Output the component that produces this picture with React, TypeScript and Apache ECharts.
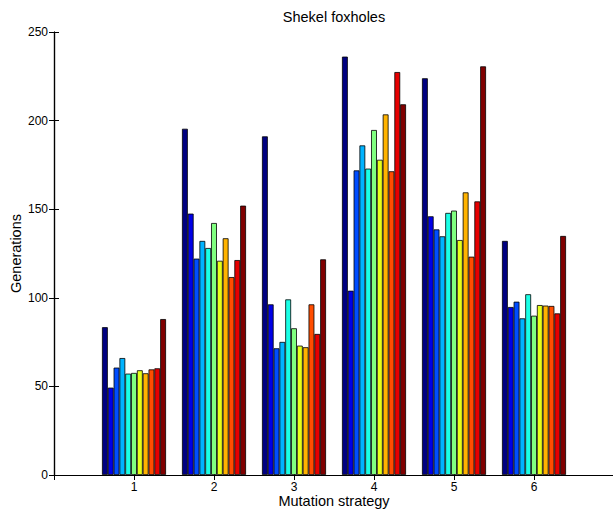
import React, { useEffect, useRef } from "react";
import * as echarts from "echarts";

// Mutation strategies on the x axis
const strategies = [1, 2, 3, 4, 5, 6];

// Generations needed, one row per strategy (11 runs each)
const strategy1 = [83.4, 49.3, 60.6, 66.0, 57.2, 57.6, 59.1, 57.4, 59.6, 60.2, 88.0];
const strategy2 = [195.4, 147.5, 122.1, 132.1, 128.1, 142.2, 120.9, 133.6, 111.7, 121.3, 152.0];
const strategy3 = [191.1, 96.3, 71.5, 75.1, 99.1, 82.8, 73.0, 72.1, 96.3, 79.6, 121.7];
const strategy4 = [236.1, 104.0, 171.9, 186.0, 172.9, 194.7, 177.9, 203.5, 171.4, 227.4, 209.2];
const strategy5 = [223.9, 146.0, 138.6, 134.7, 147.9, 149.2, 132.6, 159.5, 123.2, 154.4, 230.6];
const strategy6 = [132.1, 94.8, 97.8, 88.4, 102.0, 89.9, 95.9, 95.6, 95.4, 91.2, 134.9];

const yTicks = [0, 50, 100, 150, 200, 250];

// jet colour map sampled at 11 evenly spaced points
const runColors = [
  "#000080", "#0000E6", "#004DFF", "#00B3FF", "#1AFFE6", "#80FF80",
  "#E6FF1A", "#FFB300", "#FF4D00", "#E60000", "#800000",
];

const rows = [strategy1, strategy2, strategy3, strategy4, strategy5, strategy6];

export default function App() {
  const ref = useRef<HTMLDivElement>(null);

  useEffect(() => {
    if (!ref.current) return;
    const chart = echarts.init(ref.current, undefined, { renderer: "svg" });
    const font = "Liberation Sans, Arial, Helvetica, sans-serif";

    const series = runColors.map((color, run) => ({
      type: "bar",
      name: `Run ${run + 1}`,
      data: strategies.map((s, gi) => [s, rows[gi][run]]),
      barWidth: 5.82,
      barGap: "0%",
      itemStyle: { color, borderColor: "#000", borderWidth: 0.8 },
      xAxisIndex: 0,
      yAxisIndex: 0,
    }));

    const tickStyle = { show: true, inside: true, length: 5, lineStyle: { color: "#000", width: 1 } };
    const lineStyle = { show: true, lineStyle: { color: "#000", width: 1.2 } };

    chart.setOption({
      animation: false,
      backgroundColor: "#fff",
      title: {
        text: "Shekel foxholes",
        left: 334,
        textAlign: "center",
        top: 9,
        padding: 0,
        textStyle: { fontFamily: font, fontSize: 14.5, fontWeight: "normal", color: "#000" },
      },
      grid: { left: 54, top: 32, width: 560, height: 443, outerBoundsMode: "none", containLabel: false },
      xAxis: [
        {
          type: "value",
          min: 0,
          max: 7,
          interval: 1,
          name: "Mutation strategy",
          nameLocation: "middle",
          nameGap: 18,
          nameMoveOverlap: false,
          nameTextStyle: { fontFamily: font, fontSize: 14.5, color: "#000", verticalAlign: "top" },
          axisLine: lineStyle,
          axisTick: tickStyle,
          splitLine: { show: false },
          axisLabel: {
            fontFamily: font,
            fontSize: 12,
            color: "#000",
            margin: 6,
            formatter: (v: number) => (strategies.includes(v) ? String(v) : ""),
          },
        },
        {
          type: "value",
          position: "top",
          min: 0,
          max: 7,
          interval: 1,
          axisLine: lineStyle,
          axisTick: tickStyle,
          splitLine: { show: false },
          axisLabel: { show: false },
        },
      ],
      yAxis: [
        {
          type: "value",
          min: yTicks[0],
          max: yTicks[yTicks.length - 1],
          interval: 50,
          name: "Generations",
          nameLocation: "middle",
          nameGap: 31,
          nameMoveOverlap: false,
          nameTextStyle: { fontFamily: font, fontSize: 14.5, color: "#000" },
          axisLine: lineStyle,
          axisTick: tickStyle,
          splitLine: { show: false },
          axisLabel: { fontFamily: font, fontSize: 12, color: "#000", margin: 6 },
        },
        {
          type: "value",
          position: "right",
          min: yTicks[0],
          max: yTicks[yTicks.length - 1],
          interval: 50,
          axisLine: lineStyle,
          axisTick: tickStyle,
          splitLine: { show: false },
          axisLabel: { show: false },
        },
      ],
      series,
    });

    return () => chart.dispose();
  }, []);

  return (
    <div
      ref={ref}
      style={{ position: "absolute", left: 0, top: 0, width: 613, height: 512 }}
    />
  );
}
